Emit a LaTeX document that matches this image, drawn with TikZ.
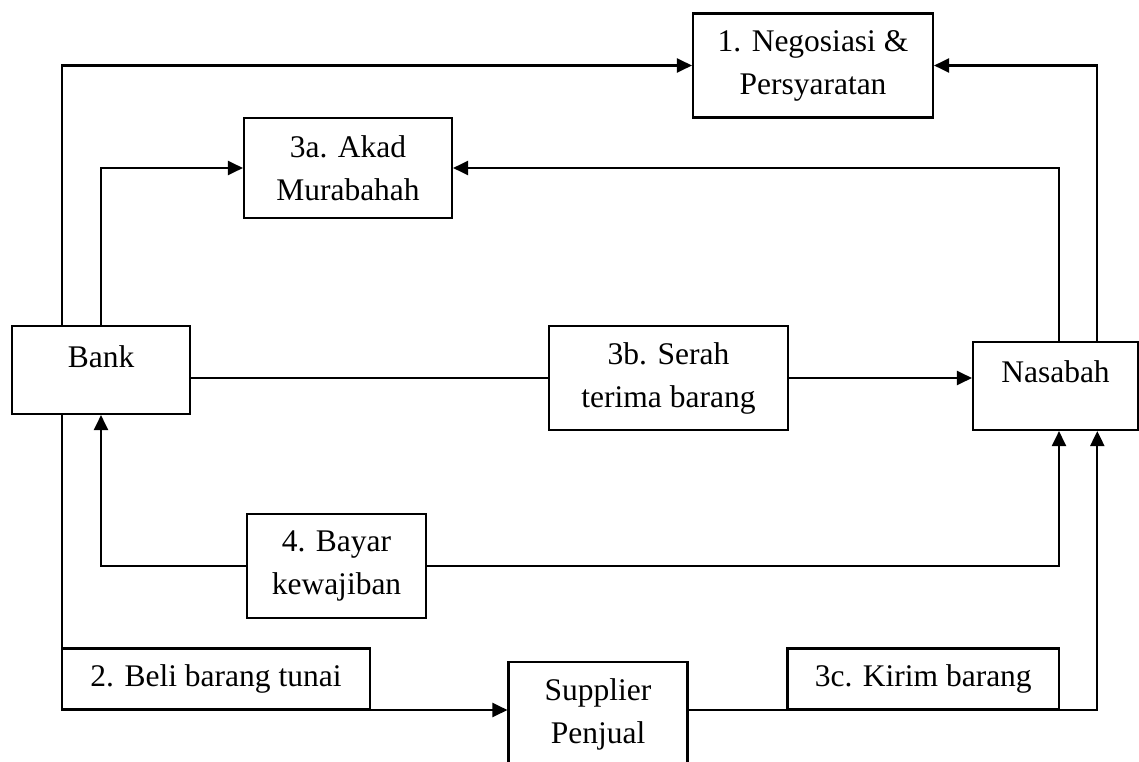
\documentclass[tikz,border=0pt]{standalone}
\usepackage{fontspec}
\setmainfont{Liberation Serif}
\usetikzlibrary{arrows.meta}
\begin{document}
\begin{tikzpicture}[x=1pt,y=-1pt,
  box/.style={draw, line width=2.1pt, fill=white, inner sep=0pt, align=center, font=\fontsize{31.5}{43}\selectfont},
  lbl/.style={inner sep=0pt, font=\fontsize{31.5}{43}\selectfont},
  conn/.style={line width=2.1pt},
  arr/.style={conn, -{Triangle[length=15pt,width=14pt]}}]
\useasboundingbox (0,0) rectangle (1139,762);
\node[box, minimum width=240pt, minimum height=104pt] (nego) at (813,65.5) {1. Negosiasi \&\\Persyaratan};
\node[box, minimum width=208pt, minimum height=100pt] (akad) at (348,168) {3a. Akad\\Murabahah};
\node[box, minimum width=178pt, minimum height=88pt] (bank) at (101,370) {};
\node[lbl] (banktxt) at (101,357) {Bank};
\node[box, minimum width=239pt, minimum height=104pt] (serah) at (668.5,378) {3b. Serah\\terima barang};
\node[box, minimum width=165pt, minimum height=88pt] (nasabah) at (1055.5,386) {};
\node[lbl] (nasabahtxt) at (1055.5,372) {Nasabah};
\node[box, minimum width=179pt, minimum height=104pt] (bayar) at (336.5,566) {4. Bayar\\kewajiban};
\node[box, minimum width=308pt, minimum height=61pt] (beli) at (216,679) {2. Beli barang tunai};
\node[box, minimum width=179pt, minimum height=104pt] (supplier) at (598,714) {Supplier\\Penjual};
\node[box, minimum width=271.5pt, minimum height=61pt] (kirim) at (923.25,679) {3c. Kirim barang};
\coordinate (xL) at (62,0);
\coordinate (xR) at (1097.3,0);
\coordinate (xR2) at (1059,0);
\coordinate (yB) at (0,710);
\draw[arr] (bank.north -| xL) |- (nego.west);
\draw[arr] (nasabah.north -| xR) |- (nego.east);
\draw[arr] (bank.north) |- (akad.west);
\draw[arr] (nasabah.north -| xR2) |- (akad.east);
\draw[conn] (serah.west -| bank.east) -- (serah.west);
\draw[arr] (serah.east) -- (serah.east -| nasabah.west);
\draw[arr] (bayar.west) -| (bank.south);
\draw[arr] (bayar.east) -| (nasabah.south -| xR2);
\draw[arr] (bank.south -| xL) |- (supplier.west |- yB);
\draw[arr] (supplier.east |- yB) -| (nasabah.south -| xR);
\end{tikzpicture}
\end{document}
